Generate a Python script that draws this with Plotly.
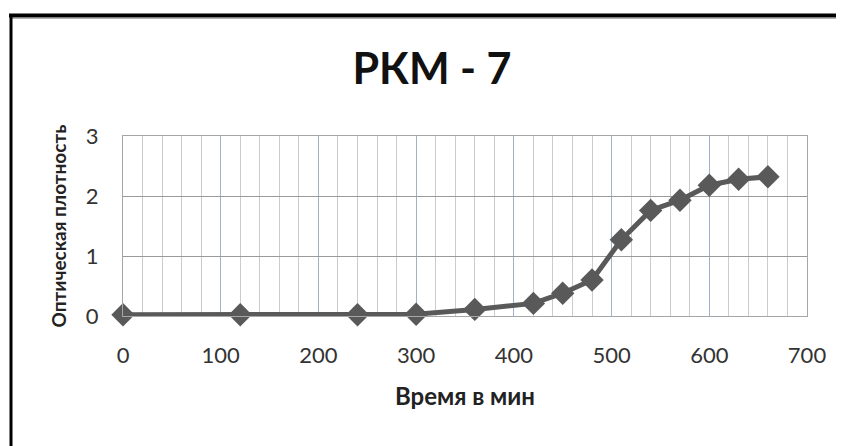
import plotly.graph_objects as go

time_min = [0, 120, 240, 300, 360, 420, 450, 480, 510, 540, 570, 600, 630, 660]
optical_density = [0.02, 0.02, 0.02, 0.03, 0.11, 0.21, 0.38, 0.60, 1.27, 1.76, 1.93, 2.18, 2.28, 2.32]

title_text = "РКМ - 7"
x_title = "Время в мин"
y_title = "Оптическая плотность"

OFF = 8  # default body margin of the page
W, H = 844 - OFF, 446 - OFF
# plot area in page pixels: x 123..807, y 136..316
L, R, T, B = 123 - OFF, 844 - 807, 136 - OFF, 446 - 316
pw, ph = W - L - R, H - T - B

def px_x(x):
    return (x - OFF - L) / pw

def px_y(y):
    return (H - B - (y - OFF)) / ph

fig = go.Figure()
fig.add_trace(go.Scatter(
    x=time_min, y=optical_density, mode="lines+markers",
    line=dict(color="#595959", width=5),
    marker=dict(symbol="diamond", size=18, color="#595959"),
    cliponaxis=False, showlegend=False,
))

fig.update_layout(
    width=W, height=H,
    margin=dict(l=L, r=R, t=T, b=B, autoexpand=False),
    paper_bgcolor="white", plot_bgcolor="white",
    font=dict(family="Lato", color="#262626"),
    title=dict(text="<b>" + title_text + "</b>", x=px_x(432), xref="paper", xanchor="center",
               y=1 - (69 - OFF) / H, yanchor="middle", font=dict(size=43, color="#111111")),
    xaxis=dict(
        range=[0, 700], dtick=100, tick0=0, showgrid=True, gridcolor="#9fb3c8", gridwidth=1,
        minor=dict(dtick=20, showgrid=True, gridcolor="#cccccc", gridwidth=1),
        showline=True, linecolor="#a6a6a6", linewidth=1, mirror=True,
        zeroline=False, ticks="", tickfont=dict(size=22, color="#333333"), ticklabelstandoff=20,
        title=dict(text="<b>" + x_title + "</b>", font=dict(size=24, color="#222222"), standoff=20),
    ),
    yaxis=dict(
        range=[0, 3], dtick=1, showgrid=True, gridcolor="#9a9a9a", gridwidth=1,
        showline=True, linecolor="#a6a6a6", linewidth=1, mirror=True,
        zeroline=False, ticks="", tickfont=dict(size=22, color="#333333"), ticklabelstandoff=19,
        title=dict(text="<b>" + y_title + "</b>", font=dict(size=19, color="#222222"), standoff=14),
    ),
    shapes=[
        dict(type="line", xref="paper", yref="paper", x0=px_x(9), x1=px_x(850), y0=px_y(15.5), y1=px_y(15.5),
             line=dict(color="black", width=4)),
        dict(type="line", xref="paper", yref="paper", x0=px_x(12), x1=px_x(850), y0=px_y(18.5), y1=px_y(18.5),
             line=dict(color="#b0b0b0", width=1)),
        dict(type="line", xref="paper", yref="paper", x0=px_x(11), x1=px_x(11), y0=px_y(14), y1=px_y(450),
             line=dict(color="black", width=3)),
    ],
)

fig.write_html("out.html")
